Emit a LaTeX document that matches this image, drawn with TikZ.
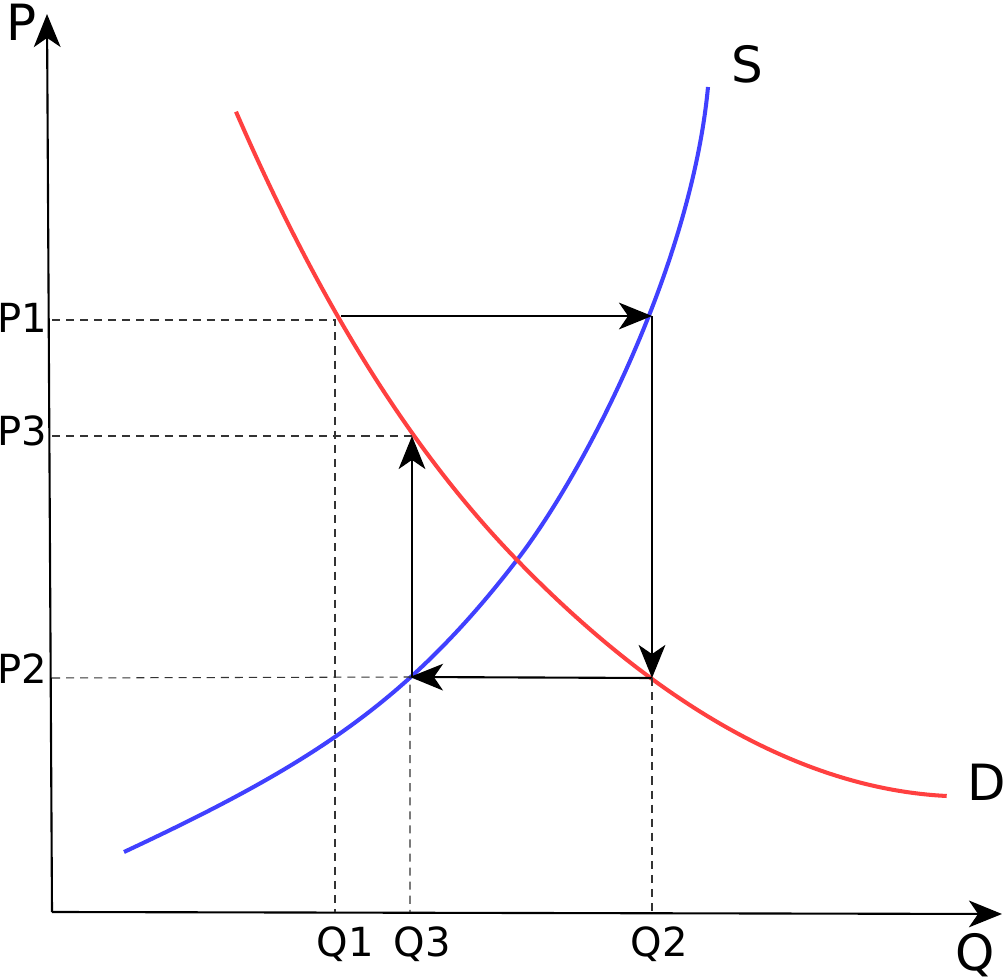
\documentclass[tikz,border=0pt]{standalone}
\usepackage{fontspec}
\setmainfont{DejaVu Sans}
\usetikzlibrary{arrows.meta}
\definecolor{supply}{RGB}{64,64,255}
\definecolor{demand}{RGB}{255,64,64}
\tikzset{
    >={Stealth[length=9.4pt, width=7.6pt, inset=2.6pt]}, % arrowheads
    axis/.style={->, line width=0.6pt},
    move/.style={->, line width=0.6pt},
    guide/.style={dash pattern=on 2.3pt off 1.7pt, line width=0.3pt, black!80},
    curve/.style={line width=1.15pt},
    big/.style={font=\fontsize{14.2}{16}\selectfont, inner sep=0pt},
    small/.style={font=\fontsize{11.4}{13}\selectfont, inner sep=0pt},
}

\begin{document}
\begin{tikzpicture}[x=0.01cm, y=-0.01cm]
  \useasboundingbox (0,0) rectangle (1005,979);

  % axes
  \coordinate (o) at (52,912);
  \coordinate (ptop) at (47,14);
  \coordinate (qend) at (1002,914);
  \draw[axis] (o) -- (ptop);
  \draw[axis] (o) -- (qend);
  \node[big] (lP) at (22,22) {P};
  \node[big] (lQ) at (975,955) {Q};

  % supply and demand
  \draw[curve, supply] (124,852) .. controls (310,765) and (407,703) .. (517,560)
                                 .. controls (587,469) and (691.7,262) .. (708,87);
  \draw[curve, demand] (236,111.7) .. controls (316,295.7) and (407,446.7) .. (517,560)
                                   .. controls (627,673.3) and (776.7,787.5) .. (946.7,796);
  \node[big] (lS) at (747,64) {S};
  \node[big] (lD) at (987,782) {D};

  % points of the cycle
  \coordinate (a) at (341,316);
  \coordinate (b) at (652,316);
  \coordinate (c) at (652,678);
  \coordinate (d) at (410,677);
  \coordinate (e) at (412,436);
  \draw[move] (a) -- (b);
  \draw[move] (b) -- (c);
  \draw[move] (c) -- (d);
  \draw[move] (412,677) -- (e);

  % guide lines
  \coordinate (p1) at (52,320);
  \coordinate (p3) at (52,436);
  \coordinate (p2) at (52,678);
  \coordinate (q1) at (335,912);
  \coordinate (q3) at (410,912);
  \coordinate (q2) at (652,912);
  \draw[guide] (p1) -- (335,320) -- (q1);
  \draw[guide] (p3) -- (e);
  \draw[guide] (p2) -- (d) -- (q3);
  \draw[guide] (c) -- (q2);

  \node[small] (lP1) at (22,318) {P1};
  \node[small] (lP3) at (22,431) {P3};
  \node[small] (lP2) at (22,669) {P2};
  \node[small] (lQ1) at (345,944) {Q1};
  \node[small] (lQ3) at (422,944) {Q3};
  \node[small] (lQ2) at (659,944) {Q2};
\end{tikzpicture}
\end{document}
